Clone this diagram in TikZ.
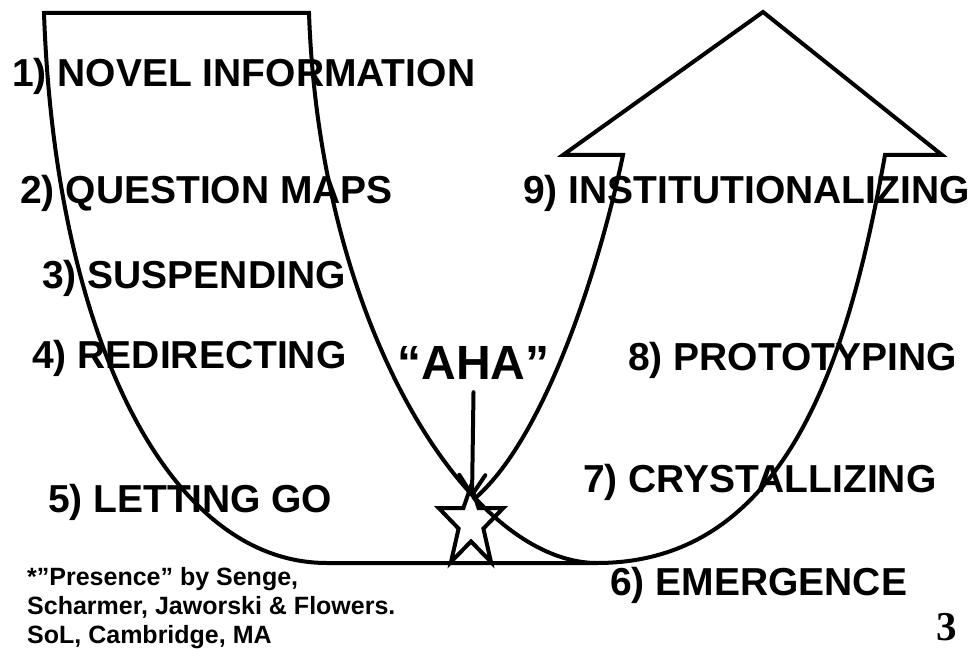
\documentclass[tikz,border=0pt]{standalone}
\usepackage{fontspec}
\setmainfont{Liberation Sans}
\newfontfamily\serifnum{Liberation Serif}
\usetikzlibrary{arrows.meta}
\begin{document}
\begin{tikzpicture}[x=1pt,y=-1pt]
\tikzset{
  outline/.style={line width=4pt, line join=miter, line cap=butt},
  lbl/.style={inner sep=0pt, anchor=base west, font=\fontsize{39}{39}\selectfont\bfseries},
  foot/.style={inner sep=0pt, anchor=base west, font=\fontsize{25}{25}\selectfont\bfseries},
}
\useasboundingbox[fill=white] (0,0) rectangle (972,650);

% U-shaped band with arrow head
\draw[outline] (597,563) -- (327,563)
  .. controls (165,563) and (55,330) .. (44,13) -- (309,13)
  .. controls (320,330) and (470,563) .. (597,563)
  .. controls (790,563) and (850,350) .. (885,155)
  -- (942,155) -- (763,12) -- (563,155) -- (623,155)
  .. controls (600,265) and (545,440) .. (473,500);

% star
\draw[line width=4pt, line join=miter]
  (471,486) -- (478.6,508) -- (503.3,508) -- (483.4,528.6) -- (491,562)
  -- (471,541.4) -- (451,562) -- (458.6,528.6) -- (438.7,508) -- (463.4,508) -- cycle;

% labels
\node[lbl] (n1) at (12,87) {1) NOVEL INFORMATION};
\node[lbl] (n2) at (20,204) {2) QUESTION MAPS};
\node[lbl] (n3) at (42,288) {3) SUSPENDING};
\node[lbl] (n4) at (32,368) {4) REDIRECTING};
\node[lbl] (n5) at (48,512) {5) LETTING GO};
\node[lbl] (n6) at (610,595) {6) EMERGENCE};
\node[lbl] (n7) at (583,492) {7) CRYSTALLIZING};
\node[lbl] (n8) at (628,370) {8) PROTOTYPING};
\node[lbl] (n9) at (523,203) {9) INSTITUTIONALIZING};
\node[inner sep=0pt, anchor=base, font=\fontsize{48}{48}\selectfont\bfseries] (aha) at (473.5,379) {“AHA”};

% AHA arrow
\coordinate (tip) at (472,497);
\draw[line width=4pt, line cap=round, -{Straight Barb[length=20pt,width=26pt,round]}]
  ([yshift=-13pt]aha.south) -- (tip);

% footnote
\node[foot] (f1) at (27,585) {*”Presence” by Senge,};
\node[foot] (f2) at (27,614) {Scharmer, Jaworski \& Flowers.};
\node[foot] (f3) at (27,643) {SoL, Cambridge, MA};

\node[inner sep=0pt, anchor=base east, font=\serifnum\fontsize{41}{41}\selectfont\bfseries] (pg) at (957,640) {3};
\end{tikzpicture}
\end{document}
